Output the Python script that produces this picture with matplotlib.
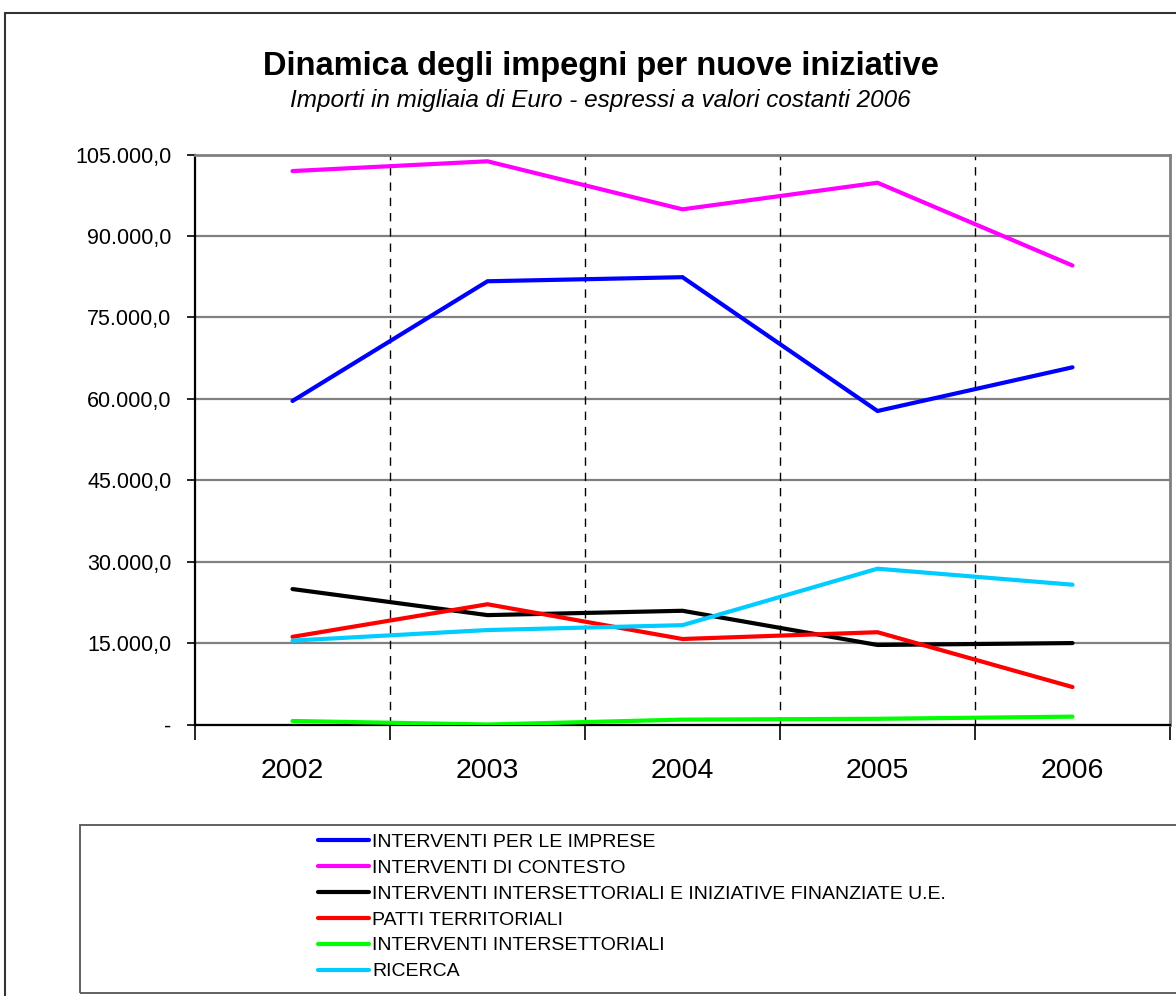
import matplotlib.pyplot as plt
from matplotlib.patches import Rectangle
from matplotlib.ticker import FixedLocator, FuncFormatter

plt.rcParams['font.family'] = ['Liberation Sans', 'DejaVu Sans']

# importi in migliaia di euro, valori costanti 2006
anni = ['2002', '2003', '2004', '2005', '2006']
imprese = [59600, 81650, 82400, 57750, 65800]
contesto = [101950, 103750, 94900, 99800, 84550]
intersett_ue = [24950, 20150, 20950, 14650, 15000]
patti = [16150, 22150, 15750, 17000, 6900]
intersett = [650, 0, 900, 1050, 1450]
ricerca = [15450, 17400, 18300, 28700, 25750]

serie = [
    ('INTERVENTI PER LE IMPRESE', imprese, '#0000ff'),
    ('INTERVENTI DI CONTESTO', contesto, '#ff00ff'),
    ('INTERVENTI INTERSETTORIALI E INIZIATIVE FINANZIATE U.E.', intersett_ue, '#000000'),
    ('PATTI TERRITORIALI', patti, '#ff0000'),
    ('INTERVENTI INTERSETTORIALI', intersett, '#00ff00'),
    ('RICERCA', ricerca, '#00ccff'),
]


def euro_fmt(v, pos):
    if v == 0:
        return '-'
    s = f'{v:,.1f}'
    return s.replace(',', 'X').replace('.', ',').replace('X', '.')


W, H = 1176, 996
fig = plt.figure(figsize=(W / 100, H / 100), dpi=100)
ax = fig.add_axes([195 / W, 1 - 724.5 / H, 975 / W, (724.5 - 154.5) / H])

x = list(range(len(anni)))
handles = []
for nome, vals, col in serie:
    h, = ax.plot(x, vals, color=col, lw=3, solid_capstyle='round',
                 solid_joinstyle='miter', label=nome, zorder=3)
    handles.append(h)

ax.set_xlim(-0.5, len(anni) - 0.5)
ax.set_ylim(0, 105000)

# asse y
ax.yaxis.set_major_locator(FixedLocator(range(0, 105001, 15000)))
ax.yaxis.set_major_formatter(FuncFormatter(euro_fmt))
ax.tick_params(axis='y', direction='out', length=6, width=1.2, color='black',
               labelsize=15.5, pad=11)
ax.grid(axis='y', color='#808080', lw=1.6, zorder=1)

# asse x: etichette al centro, tacche e griglia tratteggiata ai bordi
ax.set_xticks(x)
ax.set_xticklabels(anni, fontsize=20.5)
ax.set_xticks([i + 0.5 for i in range(-1, len(anni))], minor=True)
ax.tick_params(axis='x', which='major', length=0, pad=24)
ax.tick_params(axis='x', which='minor', direction='out', length=11, width=1.2,
               color='black')
for b in range(len(anni) - 1):
    ax.axvline(b + 0.5, color='black', lw=1, ls=(0, (6, 5)), zorder=2)

ax.spines['left'].set_color('black')
ax.spines['left'].set_linewidth(1.6)
ax.spines['bottom'].set_color('black')
ax.spines['bottom'].set_linewidth(1.6)
ax.spines['top'].set_color('#808080')
ax.spines['top'].set_linewidth(2)
ax.spines['right'].set_color('#808080')
ax.spines['right'].set_linewidth(2)

# titoli
fig.text(601 / W, 1 - 67 / H, 'Dinamica degli impegni per nuove iniziative',
         ha='center', va='center', fontsize=23.5, fontweight='bold')
fig.text(600 / W, 1 - 101 / H,
         'Importi in migliaia di Euro - espressi a valori costanti 2006',
         ha='center', va='center', fontsize=17.5, style='italic')

# cornice esterna e riquadro della legenda
fig.add_artist(Rectangle((5 / W, -0.1), 1.2, 1.1 - 13 / H, transform=fig.transFigure,
                         fill=False, ec='#333333', lw=1.5))
fig.add_artist(Rectangle((80 / W, 1 - 993 / H), 1.2, 168 / H, transform=fig.transFigure,
                         fill=False, ec='#555555', lw=1.3))

leg = fig.legend(handles=handles, loc='upper left',
                 bbox_to_anchor=(318 / W, 1 - 833 / H), frameon=False,
                 fontsize=14, handlelength=2.6, handletextpad=0.2,
                 labelspacing=0.43, borderpad=0, borderaxespad=0)

fig.savefig('out.png', dpi=100)
